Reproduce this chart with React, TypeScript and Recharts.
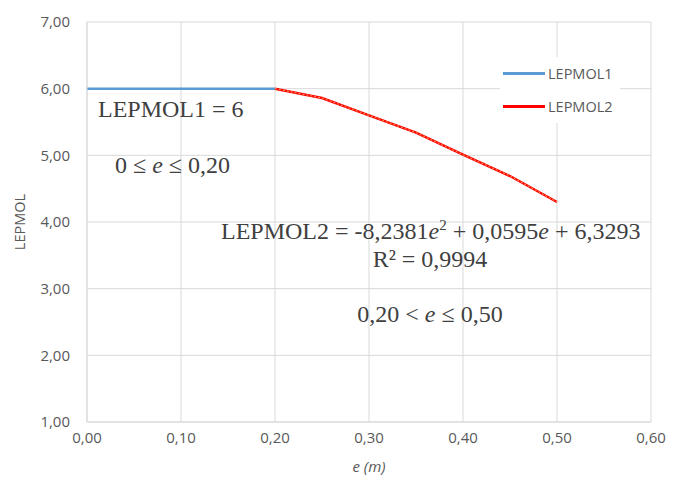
import { LineChart, Line, XAxis, YAxis, CartesianGrid } from "recharts";

// values
const e1 = [0, 0.2];
const lepmol1 = [6, 6];
const e2 = [0.2, 0.25, 0.3, 0.35, 0.4, 0.45, 0.5];
const lepmol2 = [6.0, 5.86, 5.6, 5.34, 5.01, 4.69, 4.3];
const xTicks = [0, 0.1, 0.2, 0.3, 0.4, 0.5, 0.6];
const yTicks = [1, 2, 3, 4, 5, 6, 7];

const series1 = e1.map((e, i) => ({ e, v: lepmol1[i] }));
const series2 = e2.map((e, i) => ({ e, v: lepmol2[i] }));

const BLUE = "#5b9bd5";
const RED = "#ff0000";
const GRID = "#d9d9d9";
const TICK = "#595959";
const SERIF = "'Liberation Serif', 'DejaVu Serif', serif";
const SANS = "'Open Sans', 'Liberation Sans', sans-serif";

const fmt = (v: number) => v.toFixed(2).replace(".", ",");

const legendItems = [
  { label: "LEPMOL1", color: BLUE },
  { label: "LEPMOL2", color: RED },
];

// Legend kept outside recharts so it doesn't eat into the plot area
function LegendBox() {
  return (
    <div
      style={{
        position: "absolute",
        left: 500,
        top: 57,
        width: 120,
        background: "#fff",
        padding: "0",
      }}
    >
      {legendItems.map((it) => (
        <div key={it.label} style={{ display: "flex", alignItems: "center", height: 33 }}>
          <div style={{ width: 42, height: 3, background: it.color, marginLeft: 3, marginRight: 3 }} />
          <span style={{ fontFamily: SANS, fontSize: 14.5, color: TICK }}>{it.label}</span>
        </div>
      ))}
    </div>
  );
}

export default function App() {
  return (
    <div style={{ position: "absolute", left: 0, top: 0, width: 673, height: 485, background: "#fff" }}>
      <LineChart width={673} height={485} margin={{ top: 22, right: 22, left: 0, bottom: 0 }}>
        <CartesianGrid stroke={GRID} strokeWidth={1} />
        <XAxis
          type="number"
          dataKey="e"
          domain={[0, 0.6]}
          ticks={xTicks}
          tickFormatter={fmt}
          height={63}
          tickLine={false}
          axisLine={{ stroke: GRID }}
          tickMargin={4}
          tick={{ fill: TICK, fontSize: 15, fontFamily: SANS }}
          allowDataOverflow
        />
        <YAxis
          type="number"
          dataKey="v"
          domain={[1, 7]}
          ticks={yTicks}
          tickFormatter={fmt}
          width={87}
          tickLine={false}
          axisLine={{ stroke: GRID }}
          tickMargin={11}
          tick={{ fill: TICK, fontSize: 15, fontFamily: SANS }}
        />
        <Line
          data={series1}
          dataKey="v"
          name="LEPMOL1"
          stroke={BLUE}
          strokeWidth={2.5}
          dot={false}
          isAnimationActive={false}
        />
        <Line
          data={series2}
          dataKey="v"
          name="LEPMOL2"
          stroke={RED}
          strokeWidth={2.5}
          dot={false}
          isAnimationActive={false}
        />
        {/* polynomial trendline drawn dotted over the red series */}
        <Line
          data={series2}
          dataKey="v"
          name="trend"
          stroke="#f2a65a"
          strokeWidth={1}
          strokeDasharray="2 2"
          dot={false}
          legendType="none"
          isAnimationActive={false}
        />
      </LineChart>
      <LegendBox />
      <svg
        width={673}
        height={485}
        style={{ position: "absolute", left: 0, top: 0, pointerEvents: "none" }}
      >
        <g fill="#404040" fontFamily={SERIF} fontSize={24}>
          <text x={98} y={117}>LEPMOL1 = 6</text>
          <text x={115} y={173}>
            0 ≤ <tspan fontStyle="italic">e</tspan> ≤ 0,20
          </text>
          <text x={221} y={239}>
            LEPMOL2 = -8,2381<tspan fontStyle="italic">e</tspan>
            <tspan fontSize={15} dy={-9}>2</tspan>
            <tspan dy={9}> + 0,0595</tspan>
            <tspan fontStyle="italic">e</tspan> + 6,3293
          </text>
          <text x={430} y={267} textAnchor="middle">R² = 0,9994</text>
          <text x={430} y={322} textAnchor="middle">
            0,20 &lt; <tspan fontStyle="italic">e</tspan> ≤ 0,50
          </text>
        </g>
        <text
          x={25}
          y={222}
          transform="rotate(-90 25 222)"
          textAnchor="middle"
          fill={TICK}
          fontFamily={SANS}
          fontSize={14.5}
        >
          LEPMOL
        </text>
        <text x={369} y={472} textAnchor="middle" fill={TICK} fontFamily={SANS} fontSize={15} fontStyle="italic">
          e (m)
        </text>
      </svg>
    </div>
  );
}
